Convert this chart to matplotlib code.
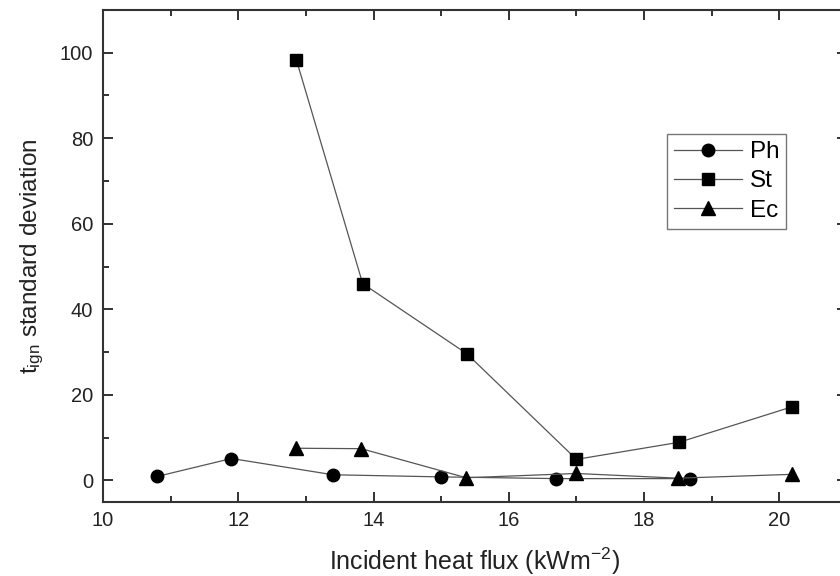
import matplotlib
matplotlib.use("Agg")
import matplotlib.pyplot as plt
from matplotlib.ticker import MultipleLocator

plt.rcParams['font.family'] = ['Liberation Sans', 'DejaVu Sans']
plt.rcParams['mathtext.default'] = 'regular'

ph_x = [10.8, 11.9, 13.4, 15.0, 16.7, 18.68]
ph_y = [0.9, 5.1, 1.3, 0.8, 0.4, 0.4]
st_x = [12.86, 13.84, 15.38, 17.0, 18.52, 20.19]
st_y = [98.3, 46.0, 29.6, 4.9, 8.9, 17.2]
ec_x = [12.86, 13.82, 15.37, 17.0, 18.5, 20.19]
ec_y = [7.5, 7.4, 0.6, 1.6, 0.5, 1.4]

fig = plt.figure(figsize=(8.4, 5.76), dpi=100)
ax = fig.add_axes([0.1226, 0.129, 0.8857, 0.8537])

lc = '#555555'
ax.plot(ph_x, ph_y, '-', color=lc, lw=0.9, marker='o', ms=9, mfc='black', mec='black', label='Ph')
ax.plot(st_x, st_y, '-', color=lc, lw=0.9, marker='s', ms=8, mfc='black', mec='black', label='St')
ax.plot(ec_x, ec_y, '-', color=lc, lw=0.9, marker='^', ms=9.5, mfc='black', mec='black', label='Ec')

ax.set_xlim(10, 21)
ax.set_ylim(-5, 110)
ax.xaxis.set_major_locator(MultipleLocator(2))
ax.xaxis.set_minor_locator(MultipleLocator(1))
ax.yaxis.set_major_locator(MultipleLocator(20))
ax.yaxis.set_minor_locator(MultipleLocator(10))
ax.tick_params(which='both', direction='in', top=True, right=True, width=1.3, colors='#222222', labelsize=14.5, labelcolor='#222222')
ax.tick_params(which='major', length=7, pad=7)
ax.tick_params(which='minor', length=4)
for s in ax.spines.values():
    s.set_linewidth(1.5)
    s.set_color('#333333')

ax.set_xlabel('Incident heat flux (kWm$^{-2}$)', fontsize=18, color='#222222', labelpad=11)
ax.set_ylabel('t$_{ign}$ standard deviation', fontsize=17.5, color='#222222', labelpad=10)

leg = ax.legend(loc='upper left', bbox_to_anchor=(0.758, 0.748), fontsize=17.5, frameon=True,
                fancybox=False, edgecolor='#555555', handlelength=2.8, handletextpad=0.3,
                borderpad=0.3, labelspacing=0.3, borderaxespad=0, markerscale=1.0)
leg.get_frame().set_linewidth(1.0)

fig.savefig('out.png', dpi=100)
